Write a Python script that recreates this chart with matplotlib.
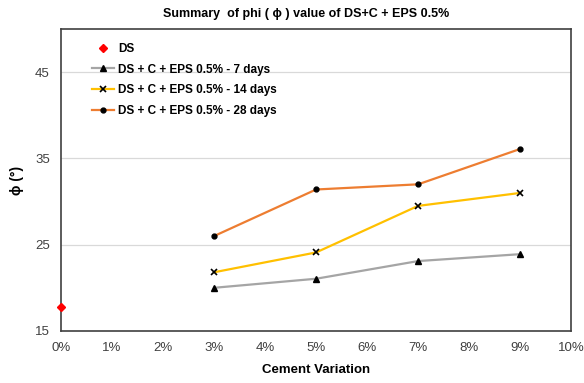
import numpy as np
import matplotlib
matplotlib.use("Agg")
import matplotlib.pyplot as plt
from matplotlib.ticker import FuncFormatter

plt.rcParams['font.family'] = ['Liberation Sans', 'DejaVu Sans']

# data
ds_x = [0]
ds_y = [17.8]

cement = [3, 5, 7, 9]
days7 = [20.0, 21.05, 23.1, 23.9]
days14 = [21.8, 24.1, 29.5, 31.0]
days28 = [26.0, 31.4, 32.0, 36.1]

labels = ["DS + C + EPS 0.5% - 7 days",
          "DS + C + EPS 0.5% - 14 days",
          "DS + C + EPS 0.5% - 28 days"]

fig = plt.figure(figsize=(5.84, 3.83), dpi=100)
ax = fig.add_axes([0.1045, 0.136, 0.8735, 0.788])

ax.plot(ds_x, ds_y, linestyle="none", marker="D", color="#FF0000",
        markersize=4.5, label="DS", clip_on=False, zorder=5)
ax.plot(cement, days7, color="#A5A5A5", lw=1.6, marker="^", mfc="black",
        mec="black", markersize=5, label=labels[0])
ax.plot(cement, days14, color="#FFC000", lw=1.6, marker="x", mfc="black",
        mec="black", markersize=4, mew=1.2, label=labels[1])
ax.plot(cement, days28, color="#ED7D31", lw=1.6, marker="o", mfc="black",
        mec="black", markersize=3.5, label=labels[2])

ax.set_xlim(0, 10)
ax.set_ylim(15, 50)
ax.set_xticks(np.arange(0, 11, 1))
ax.set_yticks([15, 25, 35, 45])
ax.xaxis.set_major_formatter(FuncFormatter(lambda v, p: f"{v:.0f}%"))
ax.tick_params(axis="both", length=0, labelsize=9.5, colors="#404040")
ax.tick_params(axis="x", pad=8)
ax.tick_params(axis="y", pad=8)

ax.grid(axis="y", color="#D9D9D9", lw=0.9)
ax.set_axisbelow(True)
for s in ax.spines.values():
    s.set_color("#404040")
    s.set_linewidth(1.2)

ax.set_xlabel("Cement Variation", fontsize=9.5, fontweight="bold", labelpad=7)
ax.set_ylabel("ϕ (°)", fontsize=10, fontweight="bold", labelpad=8)
fig.text(0.525, 0.963, "Summary  of phi ( ϕ ) value of DS+C + EPS 0.5%",
         ha="center", va="center", fontsize=9, fontweight="bold")

leg = ax.legend(loc="upper left", bbox_to_anchor=(0.04, 0.99), frameon=False,
                prop={"weight": "bold", "size": 8.5}, handlelength=1.9,
                handletextpad=0.3, labelspacing=0.75)

fig.savefig("out.png", dpi=100)
